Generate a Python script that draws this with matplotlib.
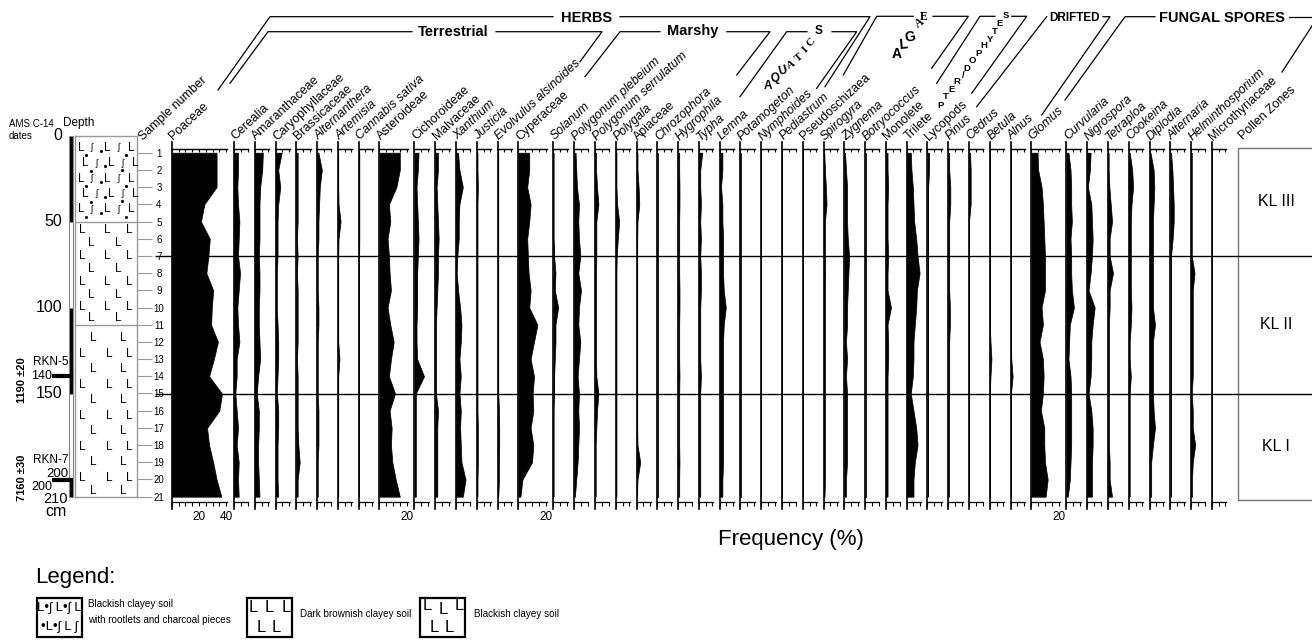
import matplotlib
matplotlib.use("Agg")
import matplotlib.pyplot as plt
from matplotlib.patches import Rectangle
from matplotlib import font_manager

plt.rcParams['font.family'] = ['Liberation Sans', 'DejaVu Sans']

# ---- data -------------------------------------------------------------
depths = [10, 20, 30, 40, 50, 60, 70, 80, 90, 100, 110,
          120, 130, 140, 150, 160, 170, 180, 190, 200, 210]
sample_no = [1, 2, 3, 4, 5, 6, 7, 8, 9, 10, 11,
             12, 13, 14, 15, 16, 17, 18, 19, 20, 21]

poaceae = [33, 33, 33, 24, 21.5, 28, 27, 25.5, 30.5, 29.5, 29, 34, 31, 27.5, 37, 35, 26, 27.5, 30.5, 33, 36.5]
cerealia = [3, 3, 2.5, 3, 4, 3.5, 3, 4.5, 3.5, 2.5, 3, 4, 2, 2, 1, 2, 3, 2, 3.5, 3, 3.5]
amaranthaceae = [6, 5.5, 4, 3.5, 3.5, 3.5, 3, 3.5, 3.5, 3, 3, 3.5, 4, 2.5, 1.5, 3, 3, 2.5, 2.5, 3, 3.5]
caryophyllaceae = [4.5, 2, 3.5, 2, 1.5, 1.5, 1.5, 1, 1, 1, 1.5, 2, 2, 1.5, 1, 2, 2, 1.5, 1.5, 1.5, 2]
brassicaceae = [1, 1, 1, 1, 1, 0.5, 1, 0.5, 1, 1, 1, 1, 0.5, 1, 1, 1, 1, 1.5, 2.5, 1, 1]
alternanthera = [1, 3.5, 2, 1.5, 1, 1, 0.5, 0.5, 0.5, 1, 1, 0.5, 0.5, 0.5, 0.5, 1, 1, 1, 0.5, 0.5, 0.5]
artemisia = [0.3, 0.3, 0.3, 0.5, 2, 0.5, 0.3, 0.3, 0.3, 0.3, 0.3, 0.3, 1.2, 0.3, 0.3, 0.3, 0.3, 0.3, 0.3, 0.3, 0.3]
cannabis = [0.5, 0.5, 0.5, 0.5, 0.5, 0.5, 0.4, 0.3, 0.3, 0.3, 0.3, 0.3, 0.3, 0.3, 0.3, 0.3, 0.3, 0.3, 0.3, 0.3, 0.3]
asteroideae = [15, 15, 12.5, 7, 8, 6, 7, 7.5, 8.5, 6, 8, 10.5, 8.5, 7, 11.5, 7.5, 9, 8.5, 9.5, 12, 15]
cichoroideae = [3, 2.5, 1.5, 2, 2.5, 3, 2.5, 2, 2, 2, 1.5, 1.5, 2, 7, 1, 1, 1, 1, 1, 1, 1]
malvaceae = [2, 2, 1, 1.5, 2, 2.5, 2, 2, 1.5, 1, 0.5, 0.5, 0.5, 0.5, 0.5, 2, 1.5, 1.5, 1.5, 1.5, 1.5]
xanthium = [1.5, 2.5, 5, 2.5, 2, 2, 1, 0.5, 1.5, 3, 4, 3.5, 2.5, 3.5, 2.5, 3.5, 3, 3.5, 4, 7, 5]
justicia = [0.5, 0.5, 0.8, 0.5, 0.5, 0.5, 0.5, 0.5, 0.5, 0.5, 0.5, 0.5, 0.5, 0.5, 0.5, 0.5, 0.8, 0.8, 0.8, 0.5, 0.5]
evolvulus = [0.5, 0.5, 0.5, 0.5, 0.5, 0.5, 0.5, 0.5, 0.5, 0.5, 0.5, 0.5, 0.5, 0.5, 0.5, 1, 1.2, 1.2, 1, 1, 0.5]
cyperaceae = [8, 8, 6.5, 9, 8, 6.5, 7, 7.5, 9, 8, 14, 11.5, 9, 11.5, 10.5, 11, 9, 11, 10, 3, 1.5]
solanum = [0, 0, 0, 0, 0, 0, 0.5, 1.5, 1, 3.5, 1.5, 1.5, 1, 0.5, 0.3, 0, 0, 0, 0, 0, 0]
p_plebeium = [1, 1.5, 2, 3.5, 3, 3.5, 4.5, 3, 5, 3.5, 3, 4.5, 3.5, 2.5, 3.5, 3, 3.5, 3, 2.5, 1.5, 0.5]
p_serrulatum = [0.8, 0.8, 1.5, 2.5, 1, 1, 1, 0.8, 0.8, 0.8, 0.8, 0.8, 0.8, 1, 2.5, 1.5, 1, 0.5, 0.5, 0.5, 0.5]
polygala = [0.5, 0.5, 0.5, 1, 2.5, 1.5, 0.7, 0.5, 0.5, 0.5, 0.5, 0.5, 0.5, 0.5, 0.5, 0.5, 0.5, 0.5, 0.5, 0.5, 0.5]
apiaceae = [0.7, 0.7, 1.5, 2, 0.7, 0.5, 0.5, 0.5, 0.5, 0.5, 0.5, 0.5, 0.5, 0.5, 0.5, 0.5, 0.5, 0.7, 2.7, 0.7, 0.3]
chrozophora = [0.3, 0.3, 0.3, 0.3, 0.3, 0.3, 0.3, 0.3, 0.3, 0.3, 0.3, 0.3, 0.3, 0.3, 0.3, 0.3, 0.3, 0.3, 0.3, 0.3, 0.3]
hygrophila = [0.8, 0.8, 1, 1, 0.8, 0.8, 0.8, 0.8, 1, 1, 0.8, 0.8, 0.8, 1, 0.8, 0.8, 0.8, 0.8, 1, 0.8, 0.8]
typha = [2.5, 1, 1, 1.5, 1, 1.5, 1, 1.5, 1.5, 1, 1, 1, 1, 1.5, 1, 1, 1, 1, 1, 1, 1]
lemna = [2, 2, 1, 2, 2, 2.5, 2.5, 2.5, 3, 4.5, 3, 2.5, 2.5, 2.5, 2.5, 2.5, 2.5, 2.5, 2.5, 2, 2]
potamogeton = [0.6, 0.6, 0.6, 0.6, 0.6, 0.6, 0.6, 0.6, 0.6, 0.6, 0.6, 0.6, 0.6, 0.6, 0.6, 0.6, 0.6, 0.6, 0.6, 0.6, 0.6]
nymphoides = [0, 0, 0, 0, 0, 0, 0, 0, 0, 0, 0, 0, 0, 0, 0, 0, 0, 0, 0, 0, 0]
pediastrum = [0, 0, 0, 0, 0, 0, 0, 0, 0, 0, 0, 0, 0, 0, 0, 0, 0, 0, 0, 0, 0]
pseudoschizaea = [0, 0, 0, 0, 0, 0, 0, 0, 0, 0, 0, 0, 0, 0, 0, 0, 0, 0, 0, 0, 0]
spirogyra = [0.5, 1, 1.7, 2.2, 1, 1, 1, 1.2, 1, 1, 1, 1, 1, 1, 1, 1, 1, 1, 1, 1, 0.7]
zygnema = [0.5, 1.2, 2, 2, 2, 2.5, 3.5, 3, 2.5, 2, 2, 1.2, 2, 1.2, 2, 2, 2, 2, 2, 1.2, 1.2]
botryococcus = [0.3, 0.3, 0.3, 0.3, 0.3, 0.3, 0.3, 0.3, 0.3, 0.3, 0.3, 0.3, 0.3, 0.3, 0.3, 0.3, 0.3, 0.3, 0.3, 0.3, 0.3]
monolete = [1.2, 1.2, 1.7, 1.2, 1.2, 1.2, 1.7, 1.2, 1.2, 3.7, 1.2, 1.7, 1.7, 1.2, 1.2, 1.2, 1.2, 1.2, 1.2, 1.2, 1.2]
trilete = [3, 3.5, 4.5, 5, 5.5, 7, 8, 9.5, 7.5, 7, 6, 5, 5, 4.5, 3, 5, 7, 8, 6, 5, 5]
lycopods = [1.2, 1.2, 0.5, 0.3, 0.3, 0.3, 0.3, 0.3, 0.3, 0.3, 0.3, 0.3, 0.3, 0.3, 0.3, 0.3, 0.3, 0.3, 0.3, 0.3, 0.3]
pinus = [0.7, 0.7, 1.5, 1.5, 0.7, 0.7, 0.7, 0.7, 0.7, 1.2, 1.2, 0.7, 0.7, 0.7, 0.7, 0.5, 0.5, 0.5, 0.5, 0.5, 0.5]
cedrus = [0.8, 1.2, 1.2, 1.2, 0, 0, 0, 0, 0, 0, 0, 0, 0, 0, 0, 0, 0, 0, 0, 0, 0]
betula = [0, 0, 0, 0, 0, 0, 0, 0, 0, 0, 0, 0.5, 1.2, 0.5, 0, 0, 0, 0, 0, 0, 0]
alnus = [0.3, 0.3, 0.3, 0.3, 0.3, 0.3, 0.3, 0.3, 0.3, 0.3, 0.3, 0.3, 0.5, 1.5, 0.3, 0.3, 0.3, 0.3, 0.3, 0.3, 0.3]
glomus = [4.5, 5, 7.5, 8.5, 9, 9.5, 10, 10, 10, 7.5, 8.5, 6, 8.5, 9, 8.5, 7, 9.5, 9.5, 10, 12, 10.5]
curvularia = [1.5, 3, 3.5, 3.5, 4, 3, 3.5, 3.5, 4, 5.5, 2.5, 2, 1.5, 3, 3.5, 3.5, 3.5, 3.5, 3, 2.5, 1]
nigrospora = [2.5, 2, 0.5, 3, 3.5, 4, 3.5, 2.5, 1, 5.5, 4, 3, 3, 2.5, 1, 3, 4, 4, 3.5, 3.5, 3.5]
tetraploa = [0.5, 0.5, 1, 2, 3, 1.2, 1.2, 3.7, 1.2, 1.2, 0.7, 0.7, 0.7, 0.7, 0.7, 0.7, 0.7, 0.7, 1.2, 1.2, 3]
cookeina = [0.7, 2.5, 3.2, 2, 1.5, 1.5, 1.5, 1.5, 1.5, 2, 1.5, 0.7, 0.7, 1.5, 0.7, 0.7, 0.7, 0.7, 0.7, 0.7, 0.7]
diplodia = [0.7, 3, 3.5, 3, 2.5, 2.5, 2.5, 2.5, 2.5, 2.5, 4, 2.5, 2.5, 2.5, 2.5, 3, 4, 2.5, 1.2, 1.2, 1.2]
alternaria = [0.5, 1.5, 2, 2.5, 2.5, 1.7, 0.5, 0.5, 0.5, 0.5, 0.5, 0.5, 0.5, 0.5, 0.5, 0.5, 0.5, 0.5, 0.5, 0.5, 0.5]
helminthosporium = [0.5, 0.5, 0.5, 0.5, 0.5, 0.5, 0.5, 2.5, 1.2, 1.2, 1.2, 1.2, 1.2, 1.2, 0.5, 1.2, 1.2, 3, 1.2, 0.7, 0.7]
microthyriaceae = [0, 0, 0, 0, 0, 0, 0, 0, 0, 0, 0, 0, 0, 0, 0, 0, 0, 0, 0, 0, 0]

# (label, values, axis maximum in %)
taxa = [
    ("Poaceae", poaceae, 41), ("Cerealia", cerealia, 10.5),
    ("Amaranthaceae", amaranthaceae, 10.5), ("Caryophyllaceae", caryophyllaceae, 10.5),
    ("Brassicaceae", brassicaceae, 10.5), ("Alternanthera", alternanthera, 10.5),
    ("Artemisia", artemisia, 10.5), ("Cannabis sativa", cannabis, 10.5),
    ("Asteroideae", asteroideae, 21), ("Cichoroideae", cichoroideae, 10.5),
    ("Malvaceae", malvaceae, 10.5), ("Xanthium", xanthium, 10.5),
    ("Justicia", justicia, 10.5), ("Evolvulus alsinoides", evolvulus, 10.5),
    ("Cyperaceae", cyperaceae, 21), ("Solanum", solanum, 10.5),
    ("Polygonum plebeium", p_plebeium, 10.5), ("Polygonum serrulatum", p_serrulatum, 10.5),
    ("Polygala", polygala, 10.5), ("Apiaceae", apiaceae, 10.5),
    ("Chrozophora", chrozophora, 10.5), ("Hygrophila", hygrophila, 10.5),
    ("Typha", typha, 10.5), ("Lemna", lemna, 10.5),
    ("Potamogeton", potamogeton, 10.5), ("Nymphoides", nymphoides, 10.5),
    ("Pediastrum", pediastrum, 10.5), ("Pseudoschizaea", pseudoschizaea, 10.5),
    ("Spirogyra", spirogyra, 10.5), ("Zygnema", zygnema, 10.5),
    ("Botryococcus", botryococcus, 10.5), ("Monolete", monolete, 10.5),
    ("Trilete", trilete, 10.5), ("Lycopods", lycopods, 10.5),
    ("Pinus", pinus, 10.5), ("Cedrus", cedrus, 10.5),
    ("Betula", betula, 10.5), ("Alnus", alnus, 10.5),
    ("Glomus", glomus, 21), ("Curvularia", curvularia, 10.5),
    ("Nigrospora", nigrospora, 10.5), ("Tetraploa", tetraploa, 10.5),
    ("Cookeina", cookeina, 10.5), ("Diplodia", diplodia, 10.5),
    ("Alternaria", alternaria, 10.5), ("Helminthosporium", helminthosporium, 10.5),
    ("Microthyriaceae", microthyriaceae, 10.5),
]
upright = {"Poaceae", "Cerealia", "Amaranthaceae", "Caryophyllaceae", "Brassicaceae",
           "Asteroideae", "Cichoroideae", "Malvaceae", "Cyperaceae", "Apiaceae",
           "Pseudoschizaea", "Monolete", "Trilete", "Lycopods", "Microthyriaceae"}

zone_names = ["KL III", "KL II", "KL I"]
zone_bounds = [7.3, 70, 150, 212]
litho_bounds = [0, 50, 110, 210]
scale_breaks = [0, 50, 100, 150, 200, 210]
depth_ticks = [0, 50, 100, 150]
dates_lab = ["RKN-5", "RKN-7"]
dates_depth = [140, 200]
dates_age = ["1190 \u00b120", "7160 \u00b130"]

# ---- layout -----------------------------------------------------------
W, H = 1312, 641
Y0, KPX = 135.5, 1.72      # pixel row of depth 0, pixels per cm
PX = 1.36                  # pixels per percent
PTOP, PBOT = 7.85, 212.9   # depth range of the panels
GAP = 6.5

fig = plt.figure(figsize=(W / 100, H / 100), dpi=100)


def depth_axes(x0, x1, dtop, dbot):
    y0, y1 = Y0 + KPX * dtop, Y0 + KPX * dbot
    ax = fig.add_axes([x0 / W, 1 - y1 / H, (x1 - x0) / W, (y1 - y0) / H])
    ax.set_ylim(dbot, dtop)
    ax.patch.set_visible(False)
    return ax


# overlay in pixels (header, legend) and overlay in pixel-x / depth-y
ov = fig.add_axes([0, 0, 1, 1])
ov.set_xlim(0, W)
ov.set_ylim(H, 0)
ov.axis('off')
ov.set_zorder(5)

dep = depth_axes(0, W, -70, 290)
dep.set_xlim(0, W)
dep.axis('off')
dep.set_zorder(6)

# ---- pollen panels ----------------------------------------------------
x = 171.7
for name, vals, xmax in taxa:
    w = xmax * PX
    ax = depth_axes(x, x + w, PTOP, PBOT)
    ax.set_xlim(0, xmax)
    ax.fill_betweenx(depths, 0, vals, facecolor='black', edgecolor='black', lw=0.5)
    ax.spines['right'].set_visible(False)
    ax.spines['left'].set_visible(False)
    for s in ('top', 'bottom'):
        ax.spines[s].set_linewidth(0.9)
    ax.plot([0, 0], [PTOP - 4, PBOT + 4.5], color='black', lw=1.2, clip_on=False)
    ticks = list(range(0, int(xmax) + 1, 5))
    ax.set_yticks([])
    ax.set_xticks(ticks)
    ax.set_xticklabels([str(t) if t in (20, 40) else '' for t in ticks])
    ax.tick_params(axis='x', direction='out', length=3, width=0.8, labelsize=8.5, pad=3.5)
    top = ax.secondary_xaxis('top')
    top.set_xticks(ticks)
    top.set_xticklabels([])
    top.tick_params(direction='in', length=2.5, width=0.8)
    top.spines['top'].set_linewidth(0.9)
    ov.text(x + 1.5, 140.5, name, rotation=43, rotation_mode='anchor', ha='left',
            va='baseline', fontsize=8.9,
            style='normal' if name in upright else 'italic')
    x += w + GAP

ov.text(143, 140.5, "Sample number", rotation=43, rotation_mode='anchor',
        ha='left', va='baseline', fontsize=8.9)
ov.text(1243, 140.5, "Pollen Zones", rotation=43, rotation_mode='anchor',
        ha='left', va='baseline', fontsize=8.9)

# ---- group brackets ---------------------------------------------------
brackets = [
    [(218, 90), (270, 16.7), (553, 16.7)], [(620, 16.7), (870, 16.7), (825, 86.7)],
    [(230, 83.3), (268, 31.7), (412, 31.7)], [(496, 31.7), (602, 31.7), (580, 61.7)],
    [(585, 76.7), (620, 31.7), (660, 31.7)], [(727, 31.7), (770, 31.7), (736.7, 75)],
    [(740, 96.7), (786.7, 31.7), (807, 31.7)], [(832, 31.7), (856.7, 31.7), (816.7, 88.3)],
    [(843.3, 75), (876.7, 16.3), (913.3, 16.3)], [(933, 16.3), (968.3, 16.3), (931.7, 68.3)],
    [(936.7, 83.3), (980, 16.3), (995, 16.3)], [(1011.7, 16.3), (1026.7, 16.3), (971.7, 93.3)],
    [(976.7, 106.7), (1046.7, 16.7)], [(1103, 16.7), (1110, 16.7), (1041.7, 115)],
    [(1065, 100), (1125, 16.7), (1155, 16.7)], [(1289, 16.7), (1312, 16.7)],
    [(1312, 26), (1282, 72)],
]
for pts in brackets:
    ov.plot([p[0] for p in pts], [p[1] for p in pts], color='black', lw=0.9)

for txt, gx, gy, fs in [("HERBS", 587, 17.5, 10.5), ("Terrestrial", 453, 31.5, 10.5),
                        ("Marshy", 693, 31.5, 10.5), ("DRIFTED", 1075, 18, 8.5),
                        ("FUNGAL SPORES", 1222, 18.5, 10.5)]:
    ov.text(gx, gy, txt, ha='center', va='center', fontsize=fs, fontweight='bold')

letters = [
    ("A", 768.3, 86, 0, 8.5, 'sans-serif'), ("Q", 775.5, 78, 8, 8.5, 'sans-serif'),
    ("U", 783, 71.5, 15, 8.5, 'sans-serif'), ("A", 791.5, 65, 30, 8, 'serif'),
    ("T", 799, 57.5, 40, 8, 'serif'), ("I", 805, 49.5, 45, 8, 'serif'),
    ("C", 811, 42, 50, 8, 'serif'), ("S", 818.3, 30.5, 0, 8.5, 'sans-serif'),
    ("A", 896.7, 53.5, 0, 10, 'sans-serif'), ("L", 903.3, 45, 5, 10, 'sans-serif'),
    ("G", 910, 36.7, 10, 10, 'sans-serif'), ("A", 919.5, 23.5, 35, 8.5, 'serif'),
    ("E", 924, 16.7, 0, 8.5, 'serif'),
]
for ch, lx, ly, rot, fs, fam in letters:
    ov.text(lx, ly, ch, ha='center', va='center', rotation=rot, fontsize=fs,
            fontweight='bold',
            family=['Liberation Serif', 'DejaVu Serif'] if fam == 'serif' else None)

pter = [("P", 941, 105), ("T", 946, 96.7), ("E", 951.7, 89.3), ("R", 957.3, 81.7),
        ("/", 963, 75), ("D", 967.3, 68.3), ("O", 972.7, 60.7), ("P", 978.3, 53.3),
        ("H", 984, 46), ("Y", 990, 39.3), ("T", 995, 31.7), ("E", 1000, 23.3),
        ("S", 1006, 15)]
for ch, lx, ly in pter:
    ov.text(lx, ly, ch, ha='center', va='center', fontsize=6.8, fontweight='bold')

ov.text(791, 539, "Frequency (%)", ha='center', va='center', fontsize=16)

# ---- lithology column -------------------------------------------------
lith = depth_axes(75, 137, 0, 210)
lith.set_xlim(0, 1)
for s in lith.spines.values():
    s.set_color('#999999')
    s.set_linewidth(1)
lith.set_xticks([])
lith.yaxis.tick_right()
lith.set_yticks(depths)
lith.set_yticklabels([str(n) for n in sample_no])
lith.tick_params(axis='y', length=10.8, width=0.8, color='#999999', labelsize=7, pad=5)
for lbl in lith.get_yticklabels():
    lbl.set_ha('center')
for b in litho_bounds[1:-1]:
    lith.axhline(b, color='#999999', lw=1)

# unit 1: with rootlets and charcoal
for i, d in enumerate([7, 16, 25, 34, 43]):
    sh = 0.07 * (i % 2)
    for xf, g in [(0.1, 'L'), (0.27, '\u0283'), (0.52, 'L'), (0.7, '\u0283'), (0.9, 'L')]:
        lith.text(xf + sh, d, g, ha='center', va='center',
                  fontsize=8.5 if g == 'L' else 6.5)
    lith.scatter([0.18 + sh, 0.42 + sh, 0.82 - sh], [d + 4.5, d + 2, d + 4.2],
                 s=5, c='black', lw=0)
# unit 2
for i, d in enumerate([55, 62.5, 70, 77.5, 85, 92.5, 100, 106]):
    xs = [0.12, 0.52, 0.87] if i % 2 == 0 else [0.27, 0.7]
    for xf in xs:
        lith.text(xf, d, 'L', ha='center', va='center', fontsize=8.5)
# unit 3
for i, d in enumerate([118, 127, 136, 145, 154, 163, 172, 181, 190, 199, 206.5]):
    xs = [0.3, 0.78] if i % 2 == 0 else [0.12, 0.55, 0.88]
    for xf in xs:
        lith.text(xf, d, 'L', ha='center', va='center', fontsize=8.5)

# ---- depth scale and dates -------------------------------------------
for i in range(len(scale_breaks) - 1):
    d0, d1 = scale_breaks[i], scale_breaks[i + 1]
    dep.add_patch(Rectangle((69.3, d0), 3.6, d1 - d0,
                            facecolor='black' if i % 2 == 0 else 'white',
                            edgecolor='#888888', lw=0.8))
for d in depth_ticks:
    dep.text(62, d, str(d), ha='right', va='center', fontsize=11.5)
dep.text(68, 211.5, "210", ha='right', va='center', fontsize=10.5)
dep.text(56, 218.5, "cm", ha='center', va='center', fontsize=11.5)
dep.text(68, 196.8, "200", ha='right', va='center', fontsize=9.5)

for lab, d, age, ly, ny in zip(dates_lab, dates_depth, dates_age, [-8.5, -11.3], [0, 4.4]):
    dep.plot([52, 73], [d, d], color='black', lw=3, solid_capstyle='butt')
    dep.text(50.5, d + ly, lab, ha='center', va='center', fontsize=8.5)
    dep.text(52, d + ny, str(d), ha='right', va='center', fontsize=9)
    dep.text(22, d + (2 if d == 140 else -1), age, rotation=90, ha='center',
             va='center', fontsize=8, fontweight='bold')

ov.text(63, 123, "Depth", ha='left', va='center', fontsize=8.5)
ov.text(9, 124, "AMS C-14", ha='left', va='center', fontsize=7)
ov.text(9, 136, "dates", ha='left', va='center', fontsize=7)

# ---- pollen zones -----------------------------------------------------
dep.add_patch(Rectangle((1238, zone_bounds[0]), 90, zone_bounds[-1] - zone_bounds[0],
                        fill=False, edgecolor='#777777', lw=1))
dep.hlines(zone_bounds[1:-1], 155, W, color='black', lw=1)
for i, zn in enumerate(zone_names):
    mid = (zone_bounds[i] + zone_bounds[i + 1]) / 2
    dep.text(1276, mid, zn, ha='center', va='center', fontsize=11.5)

# ---- legend -----------------------------------------------------------
try:
    font_manager.findfont('Liberation Sans Narrow', fallback_to_default=False)
    leg_family, leg_size = ['Liberation Sans Narrow', 'DejaVu Sans'], 8.3
except ValueError:
    leg_family, leg_size = ['Liberation Sans', 'DejaVu Sans'], 7.1

ov.text(35, 577, "Legend:", ha='left', va='center', fontsize=16)
for bx in (37, 247, 420):
    ov.add_patch(Rectangle((bx, 598), 45, 39, fill=False, edgecolor='black', lw=1.6))
ov.text(59.5, 608, "L\u2022\u0283 L\u2022\u0283 L", ha='center', va='center', fontsize=9.5)
ov.text(59.5, 627, "\u2022L\u2022\u0283 L \u0283", ha='center', va='center', fontsize=9.5)
for lx, ly in [(253, 608), (269, 608), (286, 608), (261, 627), (276, 627)]:
    ov.text(lx, ly, 'L', ha='center', va='center', fontsize=12)
for lx, ly in [(427, 606), (443, 610), (459, 606), (434, 628), (449, 628)]:
    ov.text(lx, ly, 'L', ha='center', va='center', fontsize=12)
ov.text(88, 604, "Blackish clayey soil", ha='left', va='center', fontsize=leg_size, family=leg_family)
ov.text(88, 620, "with rootlets and charcoal pieces", ha='left', va='center',
        fontsize=leg_size, family=leg_family)
ov.text(300, 614, "Dark brownish clayey soil", ha='left', va='center', fontsize=leg_size, family=leg_family)
ov.text(474, 614, "Blackish clayey soil", ha='left', va='center', fontsize=leg_size, family=leg_family)

fig.savefig("out.png", dpi=100)
